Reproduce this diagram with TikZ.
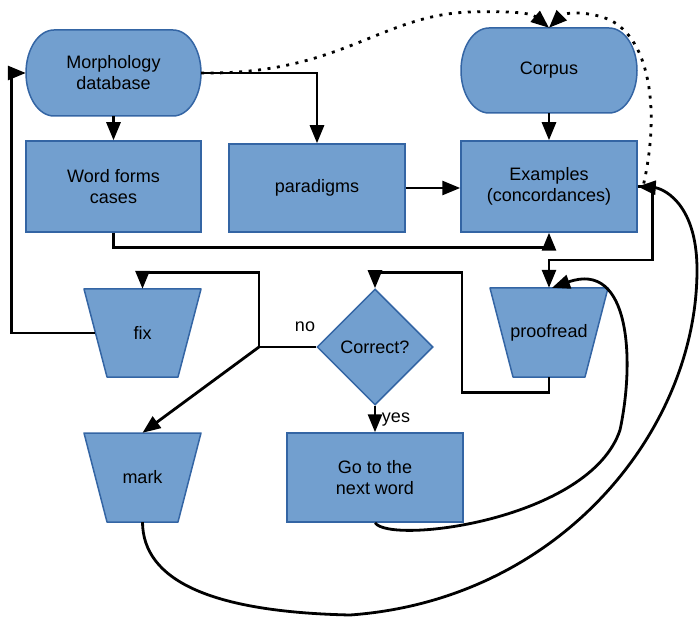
\documentclass[tikz,border=0pt]{standalone}
\usepackage{fontspec}
\setmainfont{Liberation Sans}
\usetikzlibrary{shapes.geometric,arrows.meta}
\definecolor{boxfill}{HTML}{729FCF}
\definecolor{boxline}{HTML}{3465A4}
\begin{document}
\begin{tikzpicture}[x=1pt,y=1pt,
  txt/.style={font=\fontsize{18}{21}\selectfont,align=center,inner sep=0pt},
  shapebase/.style={txt,fill=boxfill,draw=boxline,line width=1.5pt},
  procbox/.style={shapebase,rectangle},
  decbox/.style={shapebase,diamond,minimum width=116pt,minimum height=116pt},
  shapefill/.style={fill=boxfill,draw=boxline,line width=1.5pt,line join=round},
  conn/.style={line width=2.8pt,-{Triangle[length=18pt,width=14pt]}},
  dotconn/.style={conn,dash pattern=on 3pt off 6.5pt},
]
\useasboundingbox (0,0) rectangle (699,-620);

% stadium shapes
\path[shapefill] (54,-30) -- (173,-30) arc[start angle=90,end angle=-90,x radius=28,y radius=43] -- (54,-116) arc[start angle=270,end angle=90,x radius=28,y radius=43] -- cycle;
\path[shapefill] (489,-28) -- (609,-28) arc[start angle=90,end angle=-90,x radius=28,y radius=42.5] -- (489,-113) arc[start angle=270,end angle=90,x radius=28,y radius=42.5] -- cycle;
% trapezoids
\path[shapefill] (84,-289) -- (201,-289) -- (178,-377) -- (107,-377) -- cycle;
\path[shapefill] (84,-433) -- (201,-433) -- (178,-522) -- (107,-522) -- cycle;
\path[shapefill] (490,-288) -- (608,-288) -- (585,-377) -- (513,-377) -- cycle;

\node[txt,minimum width=175pt,minimum height=86pt] (morph) at (113.5,-73) {Morphology\\database};
\node[txt,minimum width=176pt,minimum height=85pt] (corpus) at (549,-70.5) {Corpus};
\node[txt,minimum width=94pt,minimum height=88pt] (fix) at (142.5,-333) {fix};
\node[txt,minimum width=94pt,minimum height=89pt] (mark) at (142.5,-477.5) {mark};
\node[txt,minimum width=94pt,minimum height=89pt] (proof) at (549,-332.5) {proofread};

\node[procbox,minimum width=175pt,minimum height=91pt] (words) at (113.5,-186.5) {Word forms\\cases};
\node[procbox,minimum width=176pt,minimum height=88pt] (parad) at (317,-188) {paradigms};
\node[procbox,minimum width=176pt,minimum height=91pt] (examples) at (549,-186.5) {Examples\\(concordances)};
\node[procbox,minimum width=176pt,minimum height=89pt] (go) at (375,-477.5) {Go to the\\next word};
\node[decbox] (correct) at (375,-347) {Correct?};

\node[txt] (nolab) at (305,-327) {no};
\node[txt] (yeslab) at (396,-420) {yes};
\coordinate (jn) at (259,-347);

% connectors
\draw[conn] (morph.south) -- (words.north);
\draw[conn] (morph.east) -| (parad.north);
\draw[conn] (words.south) -- ++(0,-15) -| (examples.south);
\draw[conn] (parad.east) -- (parad.east -| examples.west);
\draw[conn] (corpus.south) -- (examples.north);
\draw[dotconn] (morph.east) .. controls (340,-75) and (380,-15) .. (470,-12) .. controls (500,-11) and (530,-12) .. (corpus.north);
\draw[dotconn] ([shift={(6,3)}]examples.east) .. controls (660,-110) and (650,-40) .. (610,-20) .. controls (590,-11) and (565,-12) .. (corpus.north);
\draw[conn] (examples.east) -- ++(15,0) -- ++(0,-73.5) -| (proof.north);
\draw[conn] (proof.south) -- ++(0,-15) -| ([xshift=87pt,yshift=16pt]correct.north) -| (correct.north);
\draw[conn] (correct.west) -- (jn) |- ([yshift=16pt]fix.north) -- (fix.north);
\draw[conn] (jn) -- (mark.north);
\draw[conn] (fix.west) -- ++(-84,0) |- (morph.west);
\draw[conn] (correct.south) -- (go.north);
\draw[conn] (go.south) .. controls (390,-545) and (590,-520) .. (620,-430) .. controls (635,-360) and (630,-260) .. ([xshift=3pt]proof.north);
\draw[conn] (mark.south) .. controls (143,-580) and (210,-612) .. (350,-615) .. controls (560,-600) and (697,-430) .. (697,-270) .. controls (697,-200) and (660,-188) .. (examples.east);
\end{tikzpicture}
\end{document}
